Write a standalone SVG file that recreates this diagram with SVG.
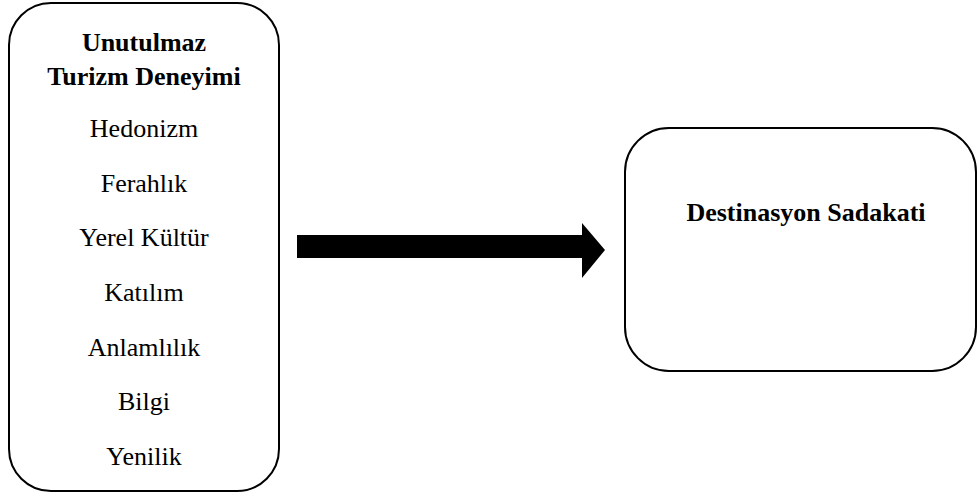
<svg xmlns="http://www.w3.org/2000/svg" width="977" height="496" viewBox="0 0 977 496">
  <style>
    .box { fill: #ffffff; stroke: #000000; stroke-width: 2; }
    .t { font-family: "Liberation Serif", "Times New Roman", serif; font-size: 26px; fill: #000000; text-anchor: middle; }
    .b { font-weight: bold; }
  </style>
  <rect width="977" height="496" fill="#ffffff"/>

  <g id="node-deneyim">
    <rect class="box" x="9" y="3" width="270" height="488" rx="42" ry="42"/>
    <text class="t b" x="144" y="51">Unutulmaz</text>
    <text class="t b" x="144" y="85">Turizm Deneyimi</text>
    <text class="t" x="144" y="137">Hedonizm</text>
    <text class="t" x="144" y="192">Ferahlık</text>
    <text class="t" x="144" y="246">Yerel Kültür</text>
    <text class="t" x="144" y="301">Katılım</text>
    <text class="t" x="144" y="356">Anlamlılık</text>
    <text class="t" x="144" y="410">Bilgi</text>
    <text class="t" x="144" y="465">Yenilik</text>
  </g>

  <g id="node-sadakat">
    <rect class="box" x="625" y="128" width="351" height="243" rx="44" ry="44"/>
    <text class="t b" x="806" y="221">Destinasyon Sadakati</text>
  </g>

  <g id="connectors">
    <polygon fill="#000000" points="297,235 582,235 582,223 605,250 582,278 582,258 297,258"/>
  </g>
</svg>
